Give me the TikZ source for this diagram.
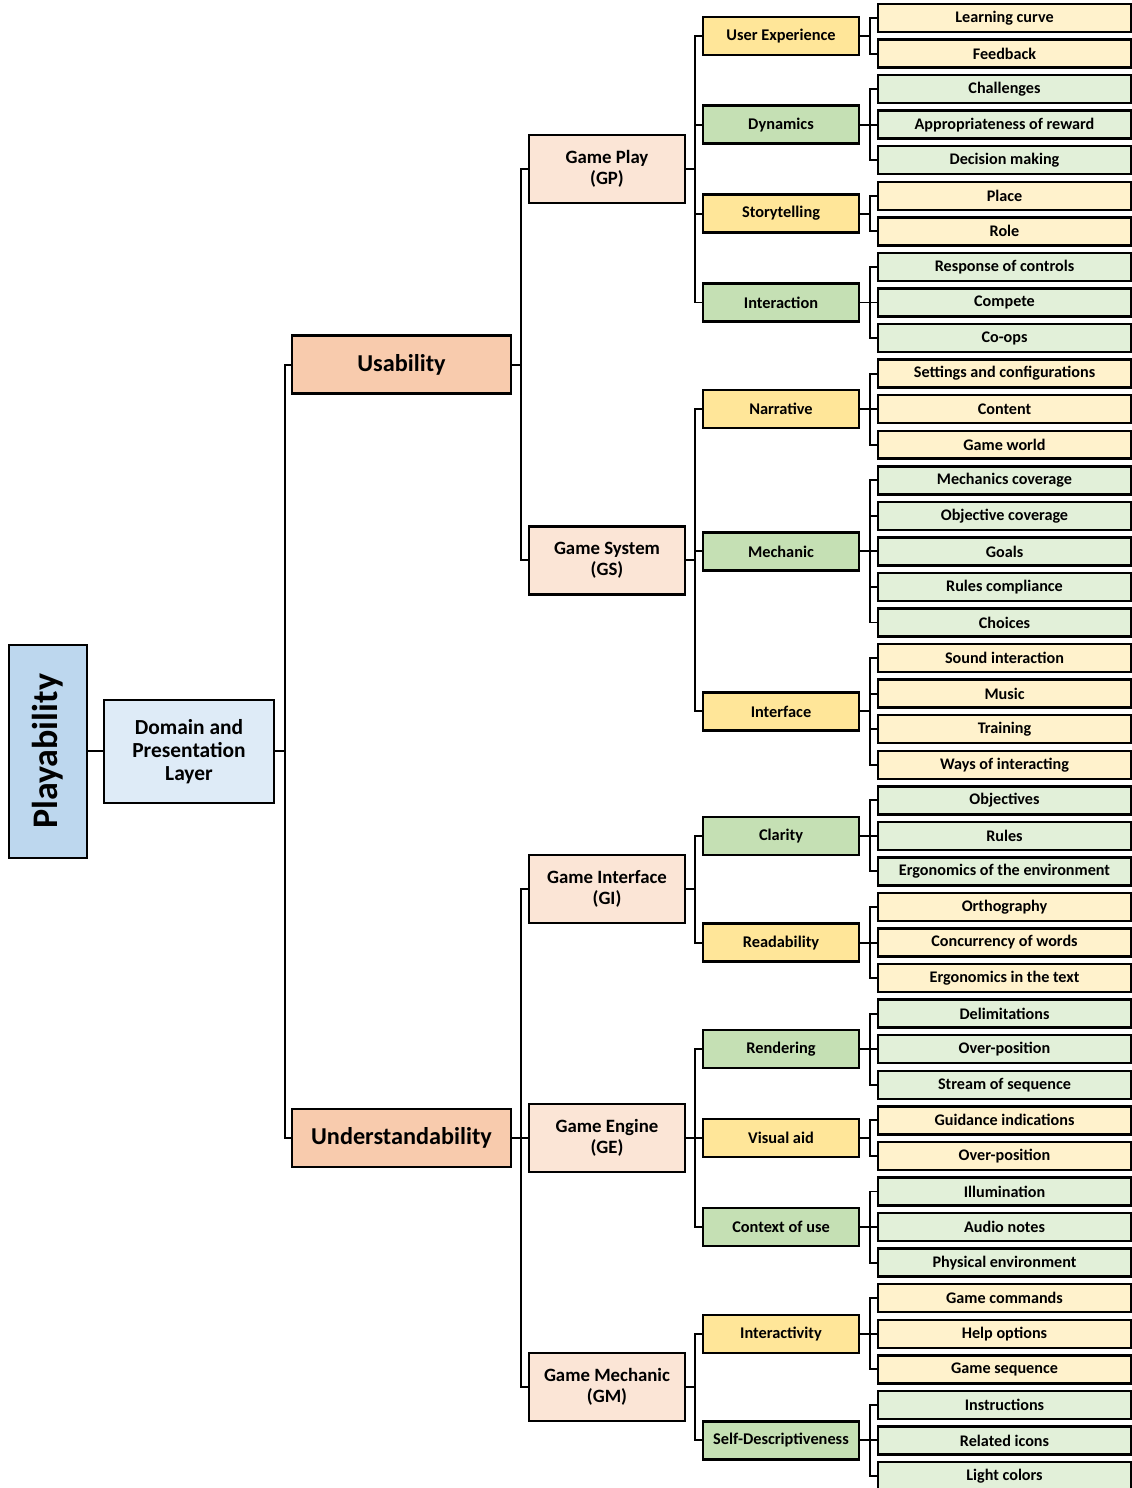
\documentclass[tikz,border=0pt]{standalone}
\usepackage{fontspec}
\setmainfont{Carlito}
\usepackage{xcolor}
\usepackage{tikz}

\definecolor{bluA}{HTML}{BDD7EE}
\definecolor{bluB}{HTML}{DEEBF7}
\definecolor{orgA}{HTML}{F8CBAD}
\definecolor{orgB}{HTML}{FBE5D6}
\definecolor{yelA}{HTML}{FFE699}
\definecolor{yelB}{HTML}{FFF2CC}
\definecolor{grnA}{HTML}{C5E0B4}
\definecolor{grnB}{HTML}{E2F0D9}

\tikzset{
  box/.style={draw, line width=1.4pt, inner sep=1pt, align=center},
  leafbox/.style={box, minimum width=5.06cm, minimum height=0.56cm, font=\bfseries\fontsize{9.2}{10}\selectfont},
  subbox/.style={box, minimum width=3.12cm, minimum height=0.76cm, font=\bfseries\fontsize{9.3}{10}\selectfont},
  gamebox/.style={box, fill=orgB, minimum width=3.12cm, minimum height=1.36cm, font=\bfseries\fontsize{10.7}{12}\selectfont},
  qualbox/.style={box, fill=orgA, minimum width=4.38cm, minimum height=1.16cm, font=\bfseries\fontsize{13.8}{15}\selectfont},
  layerbox/.style={box, fill=bluB, minimum width=3.4cm, minimum height=2.06cm, font=\bfseries\fontsize{12.2}{13.2}\selectfont},
  rootbox/.style={box, fill=bluA, minimum width=4.26cm, minimum height=1.56cm, rotate=90, font=\bfseries\fontsize{20.5}{22}\selectfont},
  link/.style={line width=1.1pt}
}

\begin{document}
\begin{tikzpicture}[x=0.02cm, y=-0.02cm]
  \useasboundingbox (0,0) rectangle (1132,1488);

  % leaves, one row each
  \foreach \t/\c [count=\i from 0] in {
      Learning curve/yelB, Feedback/yelB,
      Challenges/grnB, Appropriateness of reward/grnB, Decision making/grnB,
      Place/yelB, Role/yelB,
      Response of controls/grnB, Compete/grnB, Co-ops/grnB,
      Settings and configurations/yelB, Content/yelB, Game world/yelB,
      Mechanics coverage/grnB, Objective coverage/grnB, Goals/grnB, Rules compliance/grnB, Choices/grnB,
      Sound interaction/yelB, Music/yelB, Training/yelB, Ways of interacting/yelB,
      Objectives/grnB, Rules/grnB, Ergonomics of the environment/grnB,
      Orthography/yelB, Concurrency of words/yelB, Ergonomics in the text/yelB,
      Delimitations/grnB, Over-position/grnB, Stream of sequence/grnB,
      Guidance indications/yelB, Over-position/yelB,
      Illumination/grnB, Audio notes/grnB, Physical environment/grnB,
      Game commands/yelB, Help options/yelB, Game sequence/yelB,
      Instructions/grnB, Related icons/grnB, Light colors/grnB}
    \node[leafbox, fill=\c] (l\i) at (1004.5, {18+35.56*\i}) {\t};

  % sub-characteristics
  \node[subbox, fill=yelA] (ue) at (781, 35.78) {User Experience};
  \node[subbox, fill=grnA] (dyn) at (781, 124.68) {Dynamics};
  \node[subbox, fill=yelA] (story) at (781, 213.58) {Storytelling};
  \node[subbox, fill=grnA] (inter) at (781, 302.48) {Interaction};
  \node[subbox, fill=yelA] (narr) at (781, 409.16) {Narrative};
  \node[subbox, fill=grnA] (mech) at (781, 551.4) {Mechanic};
  \node[subbox, fill=yelA] (iface) at (781, 711.42) {Interface};
  \node[subbox, fill=grnA] (clar) at (781, 835.88) {Clarity};
  \node[subbox, fill=yelA] (read) at (781, 942.56) {Readability};
  \node[subbox, fill=grnA] (rend) at (781, 1049.24) {Rendering};
  \node[subbox, fill=yelA] (vis) at (781, 1138.14) {Visual aid};
  \node[subbox, fill=grnA] (ctx) at (781, 1227.04) {Context of use};
  \node[subbox, fill=yelA] (iact) at (781, 1333.72) {Interactivity};
  \node[subbox, fill=grnA] (selfd) at (781, 1440.4) {Self-Descriptiveness};

  % game facets
  \node[gamebox] (gp) at (607, 169.13) {Game Play\\(GP)};
  \node[gamebox] (gs) at (607, 560.29) {Game System\\(GS)};
  \node[gamebox] (gi) at (607, 889.22) {Game Interface\\(GI)};
  \node[gamebox] (ge) at (607, 1138.14) {Game Engine\\(GE)};
  \node[gamebox] (gm) at (607, 1387.06) {Game Mechanic\\(GM)};

  \node[qualbox] (usab) at (401.5, 364.71) {Usability};
  \node[qualbox] (under) at (401.5, 1138.14) {Understandability};
  \node[layerbox] (layer) at (189, 751.4) {Domain and\\Presentation\\Layer};
  \node[rootbox] (play) at (48, 751.4) {Playability};

  % brackets
  \draw[link] (play) -- (layer);
  \foreach \c in {usab,under} \draw[link] (layer.east) -- ++(10,0) |- (\c.west);
  \foreach \c in {gp,gs} \draw[link] (usab.east) -- ++(9,0) |- (\c.west);
  \foreach \c in {gi,ge,gm} \draw[link] (under.east) -- ++(9,0) |- (\c.west);
  \foreach \c in {ue,dyn,story,inter} \draw[link] (gp.east) -- ++(9,0) |- (\c.west);
  \foreach \c in {narr,mech,iface} \draw[link] (gs.east) -- ++(9,0) |- (\c.west);
  \foreach \c in {clar,read} \draw[link] (gi.east) -- ++(9,0) |- (\c.west);
  \foreach \c in {rend,vis,ctx} \draw[link] (ge.east) -- ++(9,0) |- (\c.west);
  \foreach \c in {iact,selfd} \draw[link] (gm.east) -- ++(9,0) |- (\c.west);

  \foreach \k in {0,1} \draw[link] (ue.east) -- ++(10,0) |- (l\k.west);
  \foreach \k in {2,3,4} \draw[link] (dyn.east) -- ++(10,0) |- (l\k.west);
  \foreach \k in {5,6} \draw[link] (story.east) -- ++(10,0) |- (l\k.west);
  \foreach \k in {7,8,9} \draw[link] (inter.east) -- ++(10,0) |- (l\k.west);
  \foreach \k in {10,11,12} \draw[link] (narr.east) -- ++(10,0) |- (l\k.west);
  \foreach \k in {13,...,17} \draw[link] (mech.east) -- ++(10,0) |- (l\k.west);
  \foreach \k in {18,...,21} \draw[link] (iface.east) -- ++(10,0) |- (l\k.west);
  \foreach \k in {22,23,24} \draw[link] (clar.east) -- ++(10,0) |- (l\k.west);
  \foreach \k in {25,26,27} \draw[link] (read.east) -- ++(10,0) |- (l\k.west);
  \foreach \k in {28,29,30} \draw[link] (rend.east) -- ++(10,0) |- (l\k.west);
  \foreach \k in {31,32} \draw[link] (vis.east) -- ++(10,0) |- (l\k.west);
  \foreach \k in {33,34,35} \draw[link] (ctx.east) -- ++(10,0) |- (l\k.west);
  \foreach \k in {36,37,38} \draw[link] (iact.east) -- ++(10,0) |- (l\k.west);
  \foreach \k in {39,40,41} \draw[link] (selfd.east) -- ++(10,0) |- (l\k.west);
\end{tikzpicture}
\end{document}
